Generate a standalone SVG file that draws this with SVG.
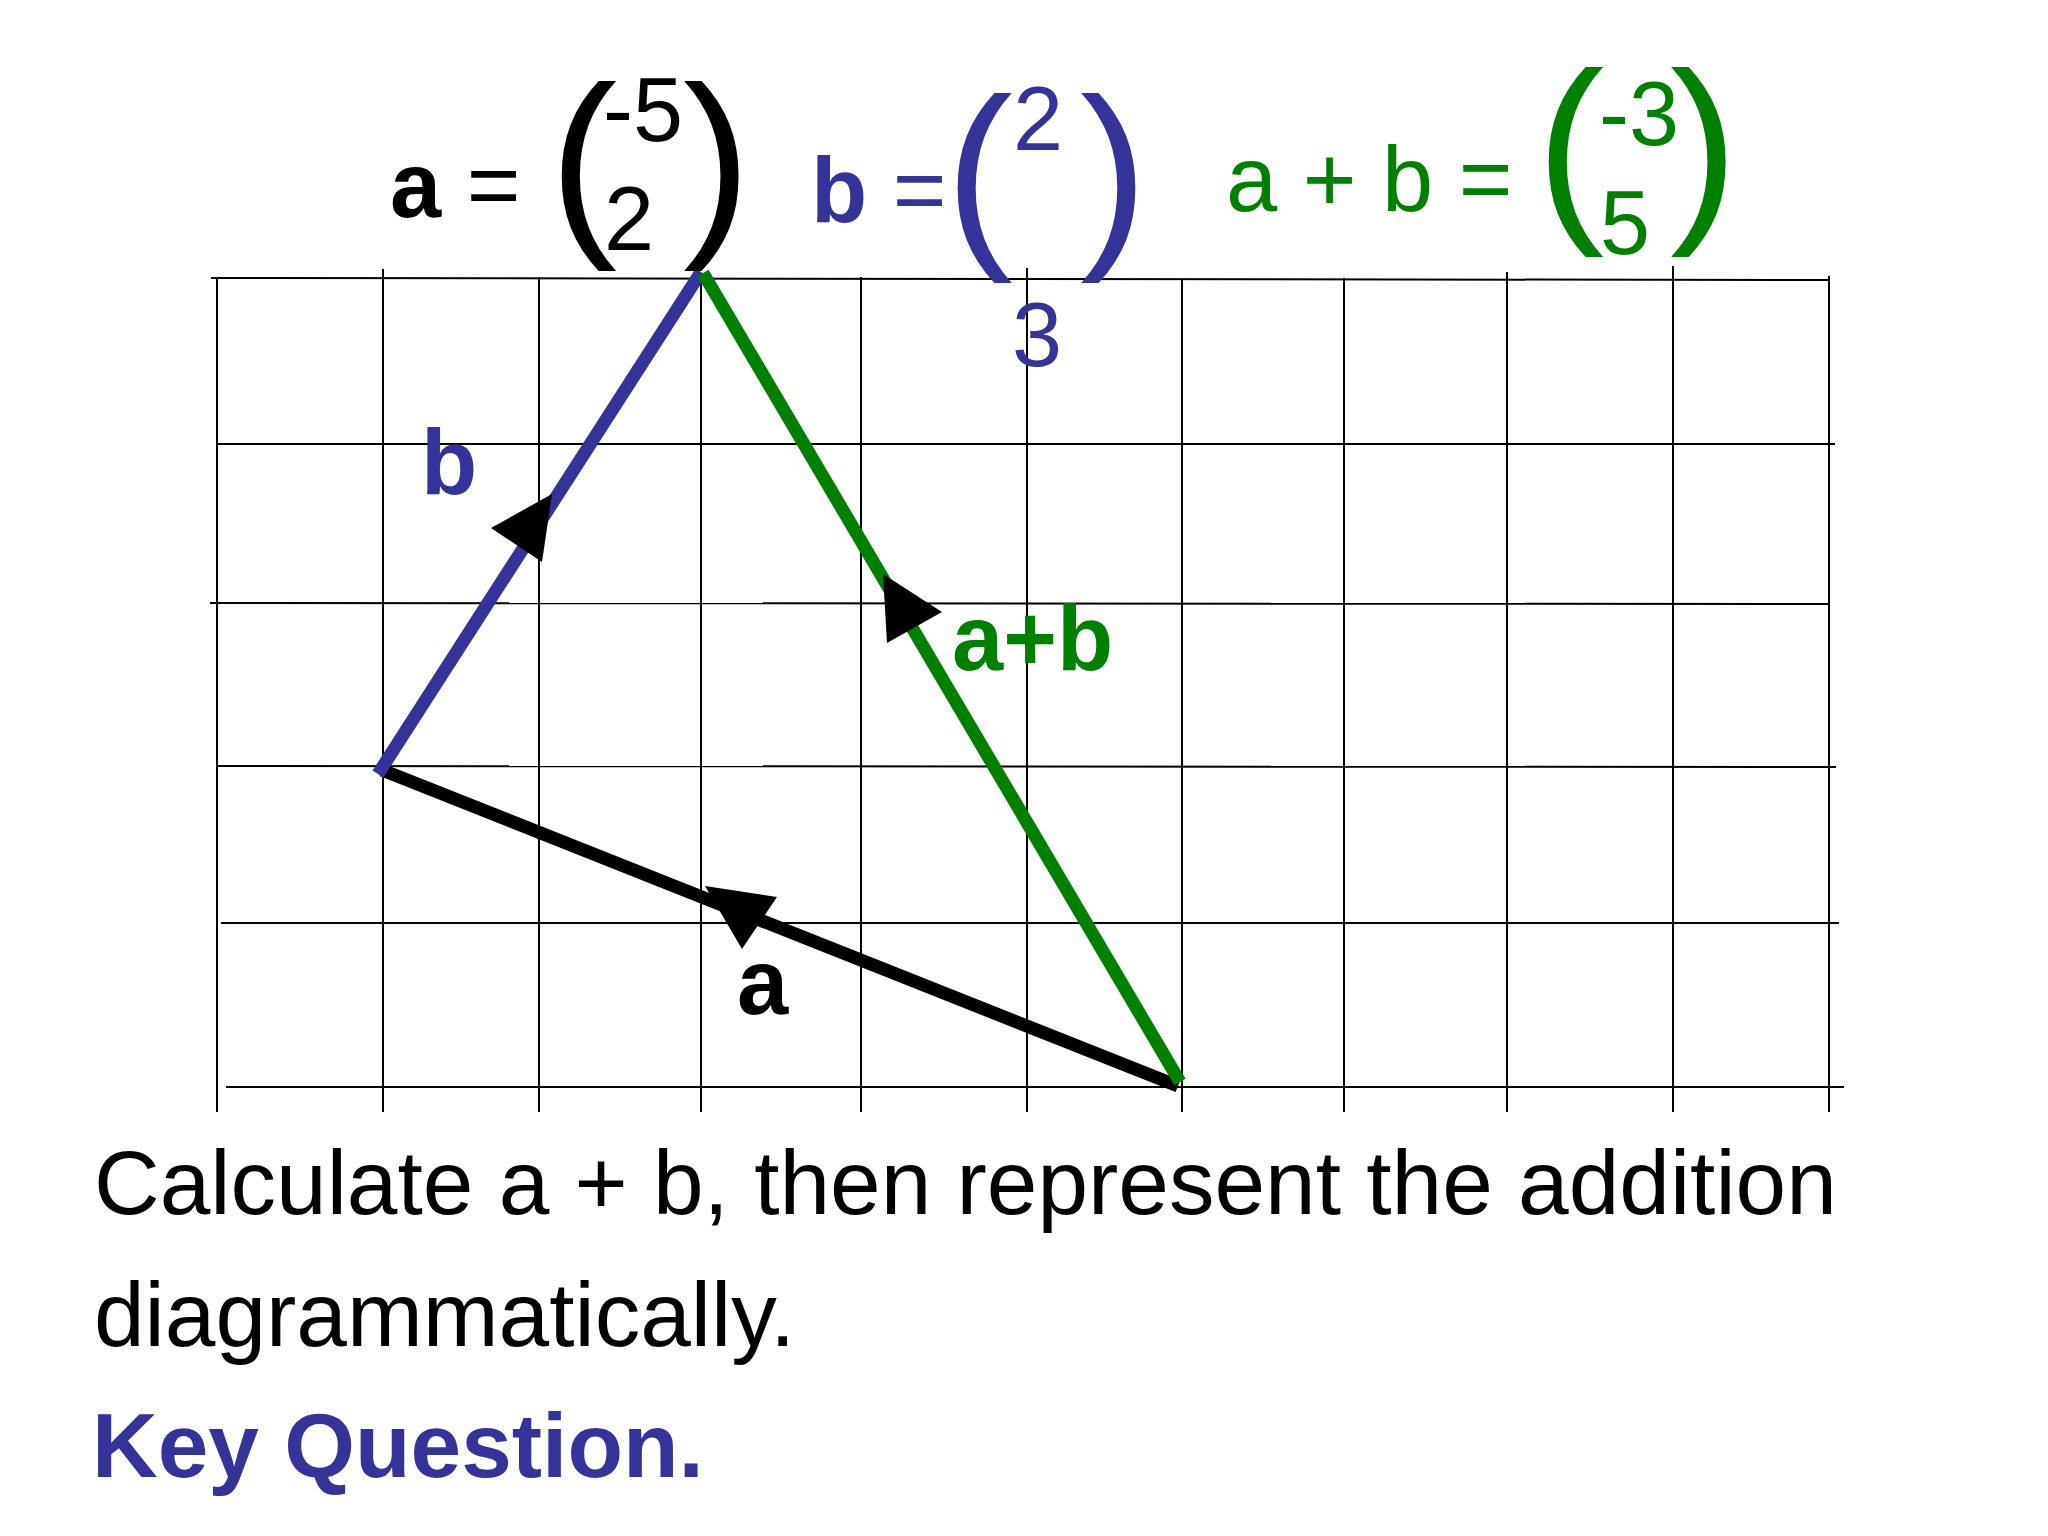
<svg xmlns="http://www.w3.org/2000/svg" width="2048" height="1536" viewBox="0 0 2048 1536">
  <style>
    .grid line { stroke: #000; stroke-width: 2; }
    .t { font-family: "Liberation Sans", Arial, sans-serif; }
    .b { font-weight: bold; }
    .r { font-weight: normal; }
    .blk { fill: #000; }
    .blu { fill: #333399; }
    .grn { fill: #008000; }
    .paren { font-size: 205px; }
    .num { font-size: 90px; }
    .lbl { font-size: 92px; }
    .body { font-size: 91px; }
    .vec { stroke-width: 13; fill: none; stroke-linecap: butt; }
    .head { fill: #000; }
  </style>
  <rect width="2048" height="1536" fill="#fff"/>

  <g id="grid" class="grid">
    <line x1="211" y1="278" x2="1829" y2="280"/>
    <line x1="217" y1="444" x2="1835" y2="444"/>
    <line x1="210" y1="603" x2="1829" y2="604"/>
    <line x1="217" y1="766" x2="1836" y2="767"/>
    <line x1="221" y1="923" x2="1839" y2="923"/>
    <line x1="226" y1="1087" x2="1844" y2="1087"/>
    <line x1="217" y1="277" x2="217" y2="1112"/>
    <line x1="383" y1="269" x2="383" y2="1112"/>
    <line x1="539" y1="277" x2="539" y2="1112"/>
    <line x1="701" y1="274" x2="701" y2="1112"/>
    <line x1="861" y1="277" x2="861" y2="1112"/>
    <line x1="1027" y1="268" x2="1027" y2="1112"/>
    <line x1="1182" y1="280" x2="1182" y2="1112"/>
    <line x1="1344" y1="278" x2="1344" y2="1112"/>
    <line x1="1507" y1="272" x2="1507" y2="1112"/>
    <line x1="1673" y1="266" x2="1673" y2="1112"/>
    <line x1="1829" y1="276" x2="1829" y2="1112"/>
  </g>

  <g id="connectors">
    <g id="vector-a">
      <line class="vec" x1="1178" y1="1086" x2="382" y2="770" stroke="#000"/>
      <polygon class="head" points="705,886 777,897 742,949"/>
    </g>
    <g id="vector-b">
      <line class="vec" x1="378" y1="774" x2="701" y2="272" stroke="#333399"/>
      <polygon class="head" points="552,494 491,528 542,562"/>
    </g>
    <g id="vector-sum">
      <line class="vec" x1="1180" y1="1082" x2="703" y2="273" stroke="#008000" stroke-width="14"/>
      <polygon class="head" points="883,574 942,612 887,643"/>
    </g>
  </g>

  <g id="label-b"><text class="t b lbl blu" x="421" y="494">b</text></g>
  <g id="label-sum"><text class="t b lbl grn" x="952" y="670">a+b</text></g>
  <g id="label-a"><text class="t b lbl blk" x="737" y="1014">a</text></g>

  <g id="eq-a">
    <text class="t b lbl blk" x="390" y="217">a <tspan class="r">=</tspan></text>
    <text class="t paren blk" x="549" y="229">(</text>
    <text class="t paren blk" x="683" y="229">)</text>
    <text class="t num blk" x="603" y="141">-5</text>
    <text class="t num blk" x="604" y="250">2</text>
  </g>

  <g id="eq-b">
    <text class="t b lbl blu" x="811" y="222">b <tspan class="r">=</tspan></text>
    <text class="t paren blu" x="945" y="241" style="font-size:204px">(</text>
    <text class="t paren blu" x="1080" y="241" style="font-size:204px">)</text>
    <text class="t num blu" x="1013" y="150">2</text>
    <text class="t num blu" x="1012" y="366">3</text>
  </g>

  <g id="eq-sum">
    <text class="t lbl grn" x="1226" y="211">a + b =</text>
    <text class="t paren grn" x="1536" y="215">(</text>
    <text class="t paren grn" x="1670" y="215">)</text>
    <text class="t num grn" x="1599" y="145">-3</text>
    <text class="t num grn" x="1600" y="254">5</text>
  </g>

  <g id="question">
    <text class="t body blk" x="94" y="1214">Calculate a + b, then represent the addition</text>
    <text class="t body blk" x="94" y="1346">diagrammatically.</text>
    <text class="t b body blu" x="92" y="1477">Key Question.</text>
  </g>
</svg>
